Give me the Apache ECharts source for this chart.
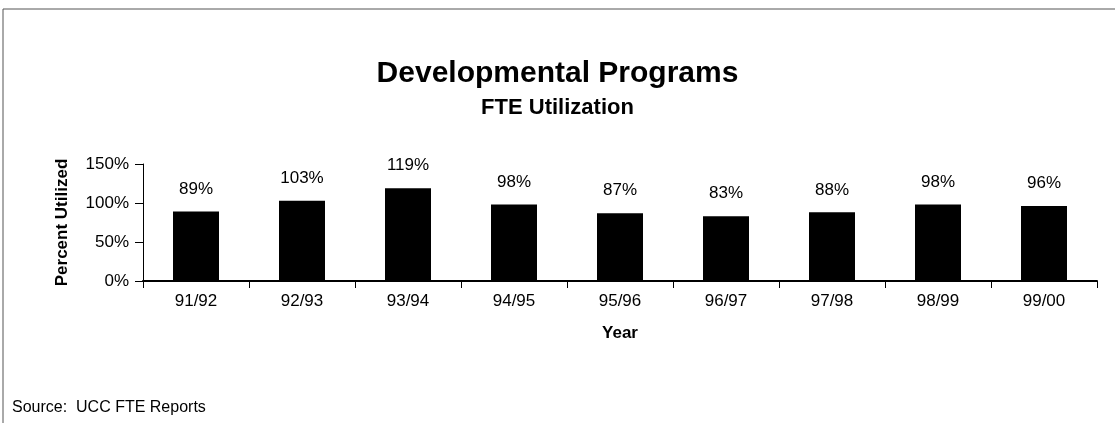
<!DOCTYPE html>
<html>
<head>
<meta charset="utf-8">
<script src="https://cdn.jsdelivr.net/npm/echarts@6/dist/echarts.min.js"></script>
<style>
  html, body { margin: 0; padding: 0; background: #fff; }
  #chart { width: 1115px; height: 423px; }
</style>
</head>
<body>
<div id="chart"></div>
<script>
var years = ['91/92', '92/93', '93/94', '94/95', '95/96', '96/97', '97/98', '98/99', '99/00'];
var utilized = [89, 103, 119, 98, 87, 83, 88, 98, 96];
var yTicks = [0, 50, 100, 150];

var font = '"Liberation Sans Narrow", "Arial Narrow", "Liberation Sans", sans-serif';

var myChart = echarts.init(document.getElementById('chart'));
var option = {
  backgroundColor: '#fff',
  animation: false,
  textStyle: { fontFamily: font, color: '#000' },
  title: {
    text: 'Developmental Programs',
    subtext: 'FTE Utilization',
    left: 'center',
    top: 54,
    itemGap: 8,
    textStyle: { fontFamily: font, fontSize: 30, fontWeight: 'bold', color: '#000' },
    subtextStyle: { fontFamily: font, fontSize: 22, fontWeight: 'bold', color: '#000' }
  },
  grid: { left: 143, right: 18, top: 164, bottom: 142 },
  graphic: [
    { type: 'line', shape: { x1: 3, y1: 9, x2: 1115, y2: 9 }, style: { stroke: '#555', lineWidth: 1 } },
    { type: 'line', shape: { x1: 3, y1: 9, x2: 3, y2: 423 }, style: { stroke: '#555', lineWidth: 1 } },
    {
      type: 'text', left: 12, top: 400,
      style: { text: 'Source:  UCC FTE Reports', fontFamily: font, fontSize: 16, fill: '#000' }
    }
  ],
  xAxis: {
    type: 'category',
    data: years,
    name: 'Year',
    nameLocation: 'middle',
    nameGap: 44,
    nameTextStyle: { fontFamily: font, fontSize: 17, fontWeight: 'bold', color: '#000' },
    axisLine: { lineStyle: { color: '#000', width: 2 } },
    axisTick: { show: true, length: 7, lineStyle: { color: '#000' } },
    axisLabel: { margin: 12, fontFamily: font, fontSize: 17, color: '#000' }
  },
  yAxis: {
    type: 'value',
    min: yTicks[0],
    max: yTicks[yTicks.length - 1],
    interval: 50,
    name: 'Percent Utilized',
    nameLocation: 'middle',
    nameGap: 72,
    nameTextStyle: { fontFamily: font, fontSize: 17, fontWeight: 'bold', color: '#000' },
    splitLine: { show: false },
    axisLine: { show: true, lineStyle: { color: '#000', width: 1 } },
    axisTick: { show: true, length: 8, lineStyle: { color: '#000' } },
    axisLabel: { margin: 14, fontFamily: font, fontSize: 17, color: '#000', formatter: '{value}%' }
  },
  series: [
    {
      type: 'bar',
      data: utilized,
      barWidth: 46,
      itemStyle: { color: '#000' },
      label: {
        show: true,
        position: 'top',
        distance: 14,
        fontFamily: font,
        fontSize: 17,
        color: '#000',
        formatter: '{c}%'
      }
    }
  ]
};
option && myChart.setOption(option);
</script>
</body>
</html>
